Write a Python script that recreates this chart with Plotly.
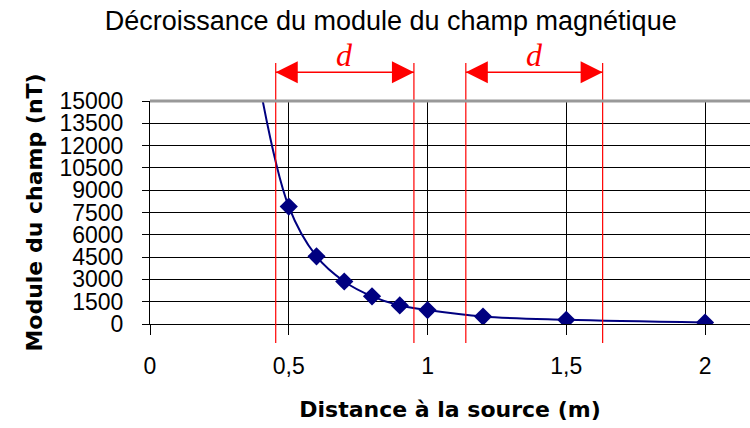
import plotly.graph_objects as go

# distance (m) et module du champ (nT)
distance = [0.4, 0.5, 0.6, 0.7, 0.8, 0.9, 1.0, 1.2, 1.5, 2.0]
module = [15600, 7900, 4550, 2860, 1860, 1250, 940, 500, 280, 100]

y_ticks = [0, 1500, 3000, 4500, 6000, 7500, 9000, 10500, 12000, 13500, 15000]
x_ticks = [0, 0.5, 1, 1.5, 2]
x_labels = ["0", "0,5", "1", "1,5", "2"]

# intervalles "d" marqués en rouge
intervalles_d = [(0.453, 0.951), (1.138, 1.631)]

ROUGE = "#ff0000"
POLICE = "Liberation Sans, Arial, sans-serif"
POLICE_GRAS = "DejaVu Sans, Verdana, sans-serif"

fig = go.Figure()

fig.add_trace(
    go.Scatter(
        x=distance,
        y=module,
        mode="lines+markers",
        line=dict(color="#000080", width=2, shape="spline"),
        marker=dict(symbol="diamond", size=14, color="#000080"),
        showlegend=False,
    )
)

shapes = []
annotations = []

for x0, x1 in intervalles_d:
    for xv in (x0, x1):
        shapes.append(dict(type="line", xref="x", yref="paper", x0=xv, x1=xv,
                           y0=-0.085, y1=1.17, line=dict(color=ROUGE, width=1.2)))
    shapes.append(dict(type="line", xref="x", yref="paper", x0=x0, x1=x1,
                       y0=1.129, y1=1.129, line=dict(color=ROUGE, width=1.5)))
    # pointes de flèche
    shapes.append(dict(type="path", xref="x", yref="paper", xsizemode="pixel", ysizemode="pixel",
                       xanchor=x0, yanchor=1.129, path="M 0,0 L 22,11 L 22,-11 Z",
                       fillcolor=ROUGE, line=dict(width=0)))
    shapes.append(dict(type="path", xref="x", yref="paper", xsizemode="pixel", ysizemode="pixel",
                       xanchor=x1, yanchor=1.129, path="M 0,0 L -22,11 L -22,-11 Z",
                       fillcolor=ROUGE, line=dict(width=0)))
    annotations.append(dict(x=(x0 + x1) / 2, y=1.115, xref="x", yref="paper",
                            yanchor="bottom", text="<i>d</i>", showarrow=False,
                            font=dict(family="Liberation Serif, Times New Roman, serif",
                                      size=32, color=ROUGE)))

# bord supérieur gris
shapes.append(dict(type="line", xref="paper", yref="paper", x0=0, x1=1, y0=1, y1=1,
                   line=dict(color="#999999", width=3), layer="above"))

fig.update_layout(
    title=dict(text="Décroissance du module du champ magnétique",
               x=0.521, xref="container", xanchor="center",
               y=0.953, yref="container", yanchor="middle",
               font=dict(family=POLICE, size=27, color="black")),
    xaxis=dict(
        range=[0, 2.162],
        tickvals=x_ticks,
        ticktext=x_labels,
        ticks="outside", ticklen=10, tickcolor="black",
        ticklabelstandoff=11,
        showgrid=True, gridcolor="black", gridwidth=1,
        showline=True, linecolor="black", linewidth=1,
        zeroline=False,
        tickfont=dict(family=POLICE, size=23, color="black"),
        title=dict(text="<b>Distance à la source (m)</b>", standoff=24,
                   font=dict(family=POLICE_GRAS, size=22, color="black")),
    ),
    yaxis=dict(
        range=[0, 15000],
        tickvals=y_ticks,
        tickformat="d",
        ticks="outside", ticklen=7, tickcolor="black",
        ticklabelstandoff=14,
        showgrid=True, gridcolor="black", gridwidth=1,
        showline=True, linecolor="black", linewidth=1,
        zeroline=False,
        tickfont=dict(family=POLICE, size=23, color="black"),
        title=dict(text="<b>Module du champ (nT)</b>", standoff=10,
                   font=dict(family=POLICE_GRAS, size=22, color="black")),
    ),
    shapes=shapes,
    annotations=annotations,
    plot_bgcolor="white",
    paper_bgcolor="white",
    width=750,
    height=428,
    margin=dict(l=150, r=0, t=101, b=104, autoexpand=False),
)

fig.write_html("out.html", config={"displayModeBar": False},
               post_script="document.body.style.margin = '0';")
